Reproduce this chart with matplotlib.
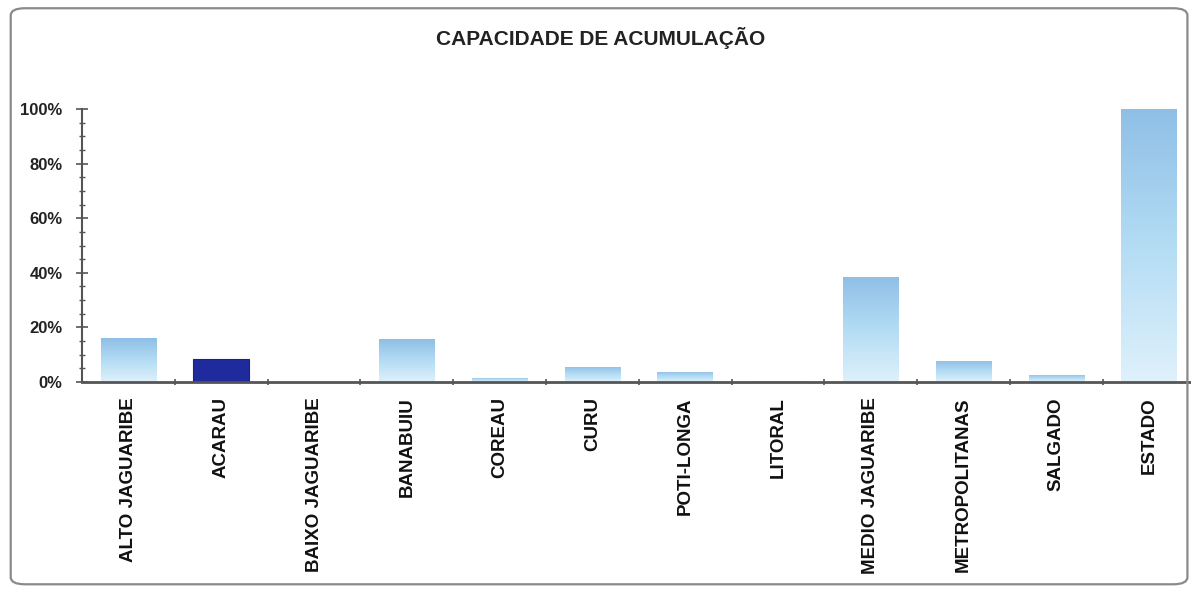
import matplotlib
matplotlib.use("Agg")
import matplotlib.pyplot as plt
import numpy as np
from matplotlib.patches import FancyBboxPatch
from matplotlib.ticker import MultipleLocator, FuncFormatter
from matplotlib.colors import LinearSegmentedColormap

plt.rcParams['font.family'] = ['Liberation Sans', 'DejaVu Sans']

categories = ["ALTO JAGUARIBE", "ACARAU", "BAIXO JAGUARIBE", "BANABUIU", "COREAU",
              "CURU", "POTI-LONGA", "LITORAL", "MEDIO JAGUARIBE", "METROPOLITANAS",
              "SALGADO", "ESTADO"]
values = [16.0, 8.4, 0.0, 15.7, 1.5, 5.5, 3.7, 0.5, 38.5, 7.7, 2.6, 100.0]
highlight = "ACARAU"

fig = plt.figure(figsize=(11.91, 5.89), dpi=100)
fig.patch.set_facecolor("white")

# rounded frame
frame = FancyBboxPatch((0.009, 0.008), 0.988, 0.978, boxstyle="round,pad=0,rounding_size=0.012",
                       transform=fig.transFigure, fill=False, edgecolor="#8a8a8a", linewidth=1.6)
fig.patches.append(frame)

ax = fig.add_axes([0.0689, 0.3514, 0.935, 0.4635])

grad_cmap = LinearSegmentedColormap.from_list("g", ["#dff1fb", "#b3dcf4", "#8fbfe6"])
grad = np.linspace(0, 1, 256).reshape(-1, 1)

x = np.arange(len(categories))
w = 0.6
for xi, (cat, v) in enumerate(zip(categories, values)):
    if v <= 0:
        continue
    if cat == highlight:
        ax.bar(xi, v, width=w, color="#1f2b9c", edgecolor="#1a237e", linewidth=0.8, zorder=2)
    else:
        bars = ax.bar(xi, v, width=w, color="none", edgecolor="none", zorder=2)
        im = ax.imshow(grad, extent=[xi - w / 2, xi + w / 2, 0, v], origin="lower",
                       aspect="auto", cmap=grad_cmap, zorder=1)
        im.set_clip_path(bars[0])
ax.set_xlim(-0.5, len(categories) - 0.5)
ax.set_ylim(0, 100)

for s in ["top", "right"]:
    ax.spines[s].set_visible(False)
ax.spines["left"].set_color("#555555")
ax.spines["left"].set_linewidth(1.5)
ax.spines["bottom"].set_color("#555555")
ax.spines["bottom"].set_linewidth(2.0)

ax.yaxis.set_major_locator(MultipleLocator(20))
ax.yaxis.set_minor_locator(MultipleLocator(5))
ax.yaxis.set_major_formatter(FuncFormatter(lambda v, p: f"{int(v)}%"))
ax.tick_params(axis="y", which="major", direction="inout", length=8, width=1.2, color="#555555",
               labelsize=12, pad=10)
ax.tick_params(axis="y", which="minor", direction="inout", length=5, width=1.0, color="#555555")
for lab in ax.get_yticklabels():
    lab.set_fontweight("bold")
    lab.set_color("#222222")

ax.set_xticks(x)
ax.set_xticklabels(categories, rotation=90, fontsize=13.5, fontweight="bold", color="#111111")
ax.tick_params(axis="x", which="major", length=0, pad=11)
ax.set_xticks(np.arange(0.5, len(categories) - 0.5, 1), minor=True)
ax.tick_params(axis="x", which="minor", direction="inout", length=5, width=1.2, color="#555555")

fig.text(0.504, 0.935, "CAPACIDADE DE ACUMULAÇÃO", ha="center", va="center",
         fontsize=15, fontweight="bold", color="#222222")

fig.savefig("out.png", dpi=100, facecolor="white")
